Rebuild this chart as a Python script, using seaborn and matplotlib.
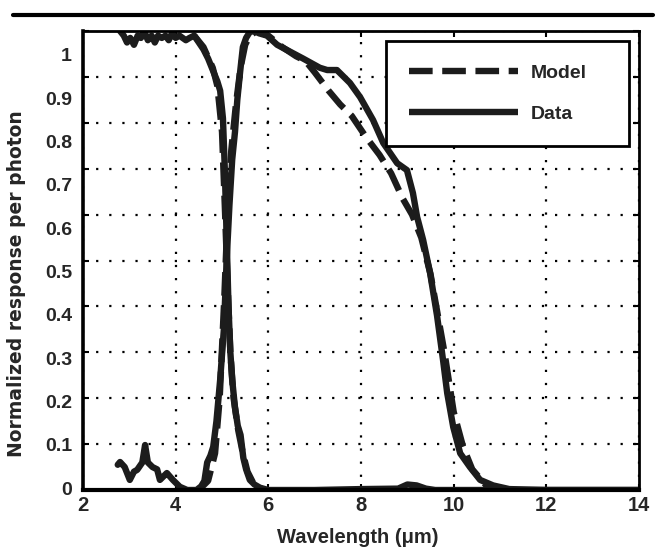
import matplotlib
matplotlib.use("Agg")
import matplotlib.pyplot as plt
import seaborn as sns
import numpy as np
from matplotlib.lines import Line2D

# ---------------- data ----------------
# Measured response, short-wave band
data_mw_x = [2.80, 2.88, 2.95, 3.02, 3.10, 3.18, 3.25, 3.32, 3.40, 3.48, 3.55, 3.62, 3.70,
             3.78, 3.85, 3.92, 4.00, 4.08, 4.15, 4.22, 4.30, 4.40, 4.50, 4.60, 4.70, 4.80,
             4.90, 4.96, 5.02, 5.06, 5.10, 5.14, 5.18, 5.22, 5.28, 5.34, 5.40, 5.46, 5.52,
             5.60, 5.70, 5.82, 6.00, 7.00, 8.00, 8.80, 9.00, 9.20, 9.40, 9.60, 10.0, 12.0, 14.0]
data_mw_y = [1.00, 0.99, 0.975, 0.985, 0.97, 0.99, 0.985, 1.00, 0.98, 0.99, 0.975, 0.99, 0.985,
             0.99, 0.98, 0.995, 0.985, 0.99, 0.985, 0.98, 0.985, 0.99, 0.975, 0.96, 0.94, 0.915,
             0.89, 0.87, 0.81, 0.70, 0.55, 0.40, 0.30, 0.24, 0.18, 0.14, 0.12, 0.07, 0.045,
             0.022, 0.012, 0.005, 0.0, 0.0, 0.002, 0.003, 0.012, 0.010, 0.003, 0.0, 0.0, 0.0, 0.0]

# Measured response, long-wave band
data_lw_x = [2.75, 2.80, 2.90, 3.01, 3.10, 3.17, 3.28, 3.34, 3.40, 3.50, 3.60, 3.66, 3.74,
             3.81, 3.94, 4.09, 4.25, 4.45, 4.55, 4.62, 4.68, 4.75, 4.81, 4.88, 4.96, 5.04,
             5.10, 5.16, 5.22, 5.28, 5.33, 5.39, 5.45, 5.52, 5.60, 5.70, 5.80, 5.97, 6.19,
             6.47, 6.75, 7.11, 7.27, 7.48, 7.76, 7.98, 8.26, 8.48, 8.78, 8.99, 9.12, 9.21,
             9.34, 9.49, 9.64, 9.77, 9.86, 9.99, 10.14, 10.35, 10.57, 10.85, 11.2, 12.0, 14.0]
data_lw_y = [0.055, 0.061, 0.05, 0.022, 0.04, 0.044, 0.06, 0.098, 0.06, 0.05, 0.045, 0.022, 0.03,
             0.037, 0.022, 0.007, 0.0, 0.0, 0.008, 0.02, 0.06, 0.075, 0.094, 0.15, 0.24, 0.35,
             0.50, 0.62, 0.72, 0.78, 0.85, 0.91, 0.965, 0.985, 0.998, 1.0, 0.995, 0.99, 0.97,
             0.955, 0.94, 0.92, 0.915, 0.915, 0.887, 0.856, 0.806, 0.756, 0.712, 0.697, 0.647, 0.595,
             0.545, 0.473, 0.38, 0.283, 0.211, 0.137, 0.08, 0.05, 0.022, 0.01, 0.002, 0.0, 0.0]

# Model, short-wave band
model_mw_x = [4.40, 4.60, 4.80, 4.90, 5.00, 5.06, 5.12, 5.18, 5.25, 5.35, 5.45, 5.55, 5.70, 5.90]
model_mw_y = [0.99, 0.965, 0.92, 0.88, 0.78, 0.62, 0.45, 0.30, 0.20, 0.13, 0.08, 0.04, 0.01, 0.0]

# Model, long-wave band
model_lw_x = [4.50, 4.70, 4.85, 4.95, 5.05, 5.12, 5.20, 5.30, 5.40, 5.50, 5.60, 5.75, 6.00,
              6.30, 6.60, 6.80, 7.00, 7.30, 7.55, 7.80, 8.10, 8.40, 8.65, 8.90, 9.10, 9.30,
              9.50, 9.65, 9.80, 10.0, 10.2, 10.4, 10.7, 11.0]
model_lw_y = [0.0, 0.02, 0.08, 0.20, 0.42, 0.60, 0.74, 0.84, 0.92, 0.97, 0.99, 1.0, 0.99,
              0.965, 0.945, 0.935, 0.91, 0.87, 0.84, 0.815, 0.77, 0.73, 0.69, 0.635, 0.60, 0.55,
              0.47, 0.385, 0.30, 0.17, 0.095, 0.045, 0.01, 0.0]

x_ticks = [2, 4, 6, 8, 10, 12, 14]
y_ticks = [0, 0.1, 0.2, 0.3, 0.4, 0.5, 0.6, 0.7, 0.8, 0.9, 1.0]
y_tick_labels = ["0", "0.1", "0.2", "0.3", "0.4", "0.5", "0.6", "0.7", "0.8", "0.9", "1"]

# ---------------- plot ----------------
sns.set_theme(style="white")
plt.rcParams["font.family"] = ["Liberation Sans", "DejaVu Sans"]

fig = plt.figure(figsize=(6.65, 5.52), dpi=100)
ax = fig.add_axes([0.1248, 0.1123, 0.8362, 0.8315])

ink = "#1c1c1c"
lw = 4.6
dash = (3.7, 1.5)

sns.lineplot(x=data_mw_x, y=data_mw_y, ax=ax, color=ink, lw=lw, sort=False,
             estimator=None, label="_d1", solid_capstyle="round", solid_joinstyle="round")
sns.lineplot(x=data_lw_x, y=data_lw_y, ax=ax, color=ink, lw=lw, sort=False,
             estimator=None, label="_d2", solid_capstyle="round", solid_joinstyle="round")
sns.lineplot(x=model_mw_x, y=model_mw_y, ax=ax, color=ink, lw=lw, sort=False,
             estimator=None, label="_m1", dashes=False)
sns.lineplot(x=model_lw_x, y=model_lw_y, ax=ax, color=ink, lw=lw, sort=False,
             estimator=None, label="_m2", dashes=False)
for ln in ax.lines[2:4]:
    ln.set_linestyle((0, dash))
    ln.set_dash_capstyle("butt")

ax.set_xlim(2, 14)
ax.set_ylim(0, 1.0)

# grid lines / tick marks
ax.set_xticks(x_ticks)
ax.set_yticks(y_ticks)
ax.grid(True, which="major", color="black", linestyle=(0, (1, 4.9)), linewidth=1.6)
ax.tick_params(which="major", direction="in", length=4, width=1.5, color="black",
               top=True, right=True, left=True, bottom=True, labelleft=False,
               labelsize=14, pad=4)
for lab in ax.get_xticklabels():
    lab.set_fontweight("bold")
    lab.set_fontsize(14.5)

# y tick labels (as printed, slightly offset from the grid)
ax.set_yticks([0.004 + 0.944 * v for v in y_ticks], minor=True)
ax.set_yticklabels(y_tick_labels, minor=True, fontsize=14, fontweight="bold")
ax.tick_params(which="minor", axis="y", length=0, pad=8, labelleft=True)
ax.tick_params(which="minor", axis="x", length=0)

for s in ax.spines.values():
    s.set_color("black")
    s.set_linewidth(2.0)
ax.spines["left"].set_linewidth(2.6)
ax.spines["bottom"].set_linewidth(3.0)

ax.set_xlabel("Wavelength (\u03bcm)", fontsize=14.5, fontweight="bold")
ax.xaxis.set_label_coords(0.494, -0.082)
ax.set_ylabel("Normalized response per photon", fontsize=13.5, fontweight="bold",
              fontfamily=["DejaVu Sans"])
ax.yaxis.set_label_coords(-0.1025, 0.449)

handles = [Line2D([], [], color=ink, lw=lw, linestyle=(0, dash), dash_capstyle="butt"),
           Line2D([], [], color=ink, lw=lw, solid_capstyle="butt")]
leg = ax.legend(handles, ["Model", "Data"], loc="upper left",
                bbox_to_anchor=(0.545, 0.756, 0.437, 0.222), mode="expand",
                prop={"weight": "bold", "size": 14},
                handlelength=5.6, handletextpad=0.65, labelspacing=1.2,
                borderpad=1.2, borderaxespad=0, fancybox=False, frameon=True,
                framealpha=1)
leg.get_frame().set_edgecolor("black")
leg.get_frame().set_linewidth(2.0)

# page rule above the figure
fig.add_artist(Line2D([0.019, 0.982], [0.973, 0.973], transform=fig.transFigure,
                      color="black", lw=3))

fig.savefig("out.png", dpi=100)
